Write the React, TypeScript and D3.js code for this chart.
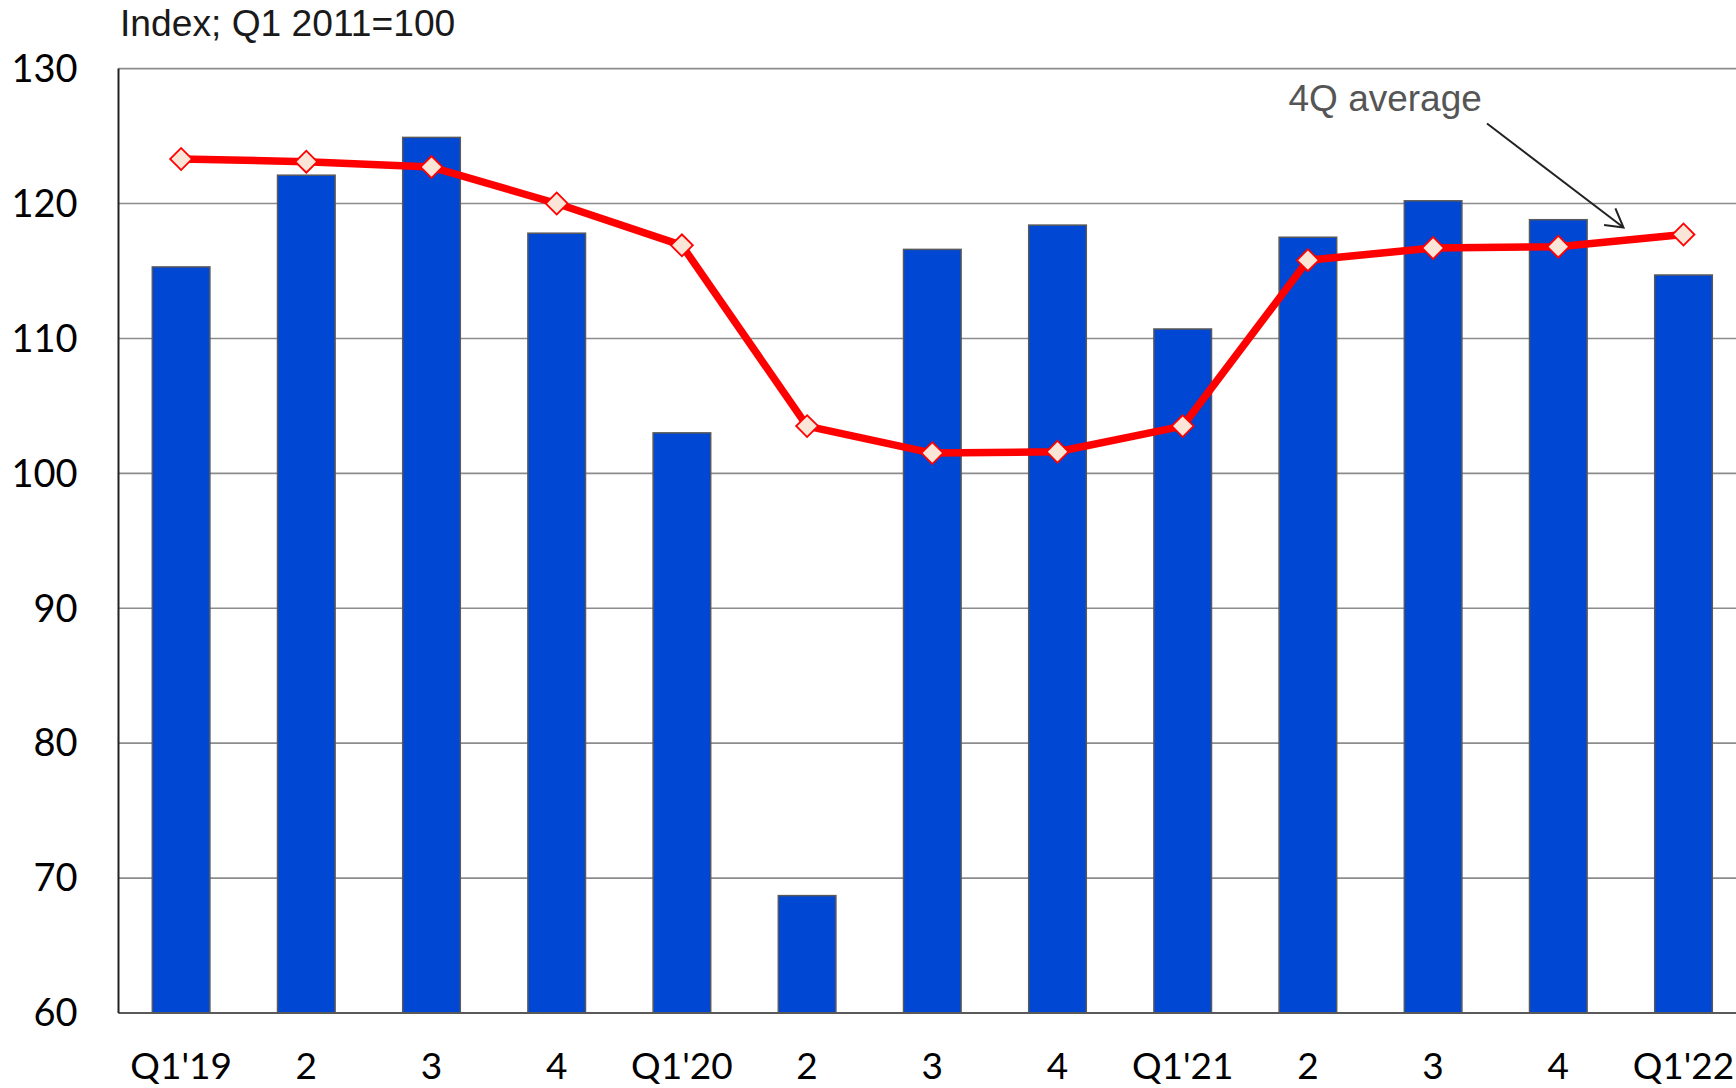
import React from "react";
import * as d3 from "d3";

const categories = ["Q1'19", "2", "3", "4", "Q1'20", "2", "3", "4", "Q1'21", "2", "3", "4", "Q1'22"];
const barValues = [115.3, 122.1, 124.9, 117.8, 103.0, 68.7, 116.6, 118.4, 110.7, 117.5, 120.2, 118.8, 114.7];
const avgValues = [123.3, 123.1, 122.7, 120.0, 116.9, 103.5, 101.5, 101.6, 103.5, 115.8, 116.7, 116.8, 117.7];
const yTicks = [60, 70, 80, 90, 100, 110, 120, 130];
const unitLabel = "Index; Q1 2011=100";
const annotation = "4Q average";

const W = 1736;
const H = 1088;
const left = 118.5;
const step = 125.2;
const top = 68.6;
const bottom = 1013;

export default function App() {
  const idx = categories.map((_, i) => i);
  const x = d3.scaleBand<number>().domain(idx).range([left, left + step * categories.length]).paddingInner(0.54).paddingOuter(0.27);
  const y = d3.scaleLinear().domain([60, 130]).range([bottom, top]);
  const cx = (i: number) => (x(i) as number) + x.bandwidth() / 2;
  const line = d3.line<number>().x((_, i) => cx(i)).y((d) => y(d));
  const diamond = d3.symbol().type(d3.symbolSquare).size(240)()!;
  const tickFont = "Lato, 'Open Sans', sans-serif";

  return (
    <div style={{ position: "absolute", left: 0, top: 0 }}>
      <svg width={W} height={H} style={{ display: "block", background: "#fff" }}>
        {yTicks.map((t) => (
          <line key={"g" + t} x1={left} x2={left + step * 13} y1={y(t)} y2={y(t)} stroke="#8c8c8c" strokeWidth={1.6} />
        ))}
        {barValues.map((v, i) => (
          <rect key={"b" + i} x={x(i)} y={y(v)} width={x.bandwidth()} height={y(60) - y(v)} fill="#0047D3" stroke="#595959" strokeWidth={1.5} />
        ))}
        <line x1={left} x2={left + step * 13} y1={y(60)} y2={y(60)} stroke="#595959" strokeWidth={2} />
        <line x1={left} x2={left} y1={y(130)} y2={y(60)} stroke="#222" strokeWidth={2} />
        <path d={line(avgValues) || ""} fill="none" stroke="#ff0000" strokeWidth={7.5} strokeLinejoin="round" />
        {avgValues.map((v, i) => (
          <path key={"m" + i} d={diamond} transform={`translate(${cx(i)},${y(v)}) rotate(45)`} fill="#fbe5d6" stroke="#ff0000" strokeWidth={1.8} />
        ))}
        {yTicks.map((t) => (
          <text key={"t" + t} x={77.5} y={y(t)} dy="0.35em" textAnchor="end" fontFamily={tickFont} fontSize={38} fill="#000">
            {t}
          </text>
        ))}
        {categories.map((c, i) => (
          <text key={"c" + i} x={cx(i)} y={1079} textAnchor="middle" fontFamily={tickFont} fontSize={37} fill="#000">
            {c}
          </text>
        ))}
        <text x={120} y={35.5} fontFamily="'Liberation Sans', Arial, sans-serif" fontSize={37.2} fill="#1a1a1a">
          {unitLabel}
        </text>
        <text x={1288.5} y={110.7} fontFamily="'Liberation Sans', Arial, sans-serif" fontSize={37} fill="#555">
          {annotation}
        </text>
        <line x1={1487} x2={1623.5} y1={123.5} y2={227.5} stroke="#222" strokeWidth={2} />
        <polyline points="1615.4,208.3 1623.5,227.5 1604.1,225" fill="none" stroke="#222" strokeWidth={2} />
      </svg>
    </div>
  );
}
